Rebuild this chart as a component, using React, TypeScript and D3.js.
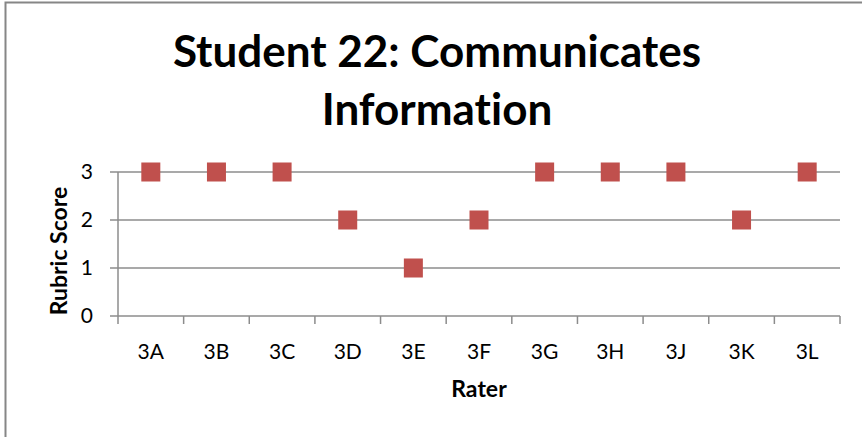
import React from "react";
import * as d3 from "d3";

const raters = ["3A", "3B", "3C", "3D", "3E", "3F", "3G", "3H", "3J", "3K", "3L"];
const scores = [3, 3, 3, 2, 1, 2, 3, 3, 3, 2, 3];
const yTicks = [0, 1, 2, 3];

const W = 862;
const H = 437;
const margin = { left: 118, right: 22, top: 172, bottom: 121 };
const font = "Lato, 'Open Sans', sans-serif";

export default function App() {
  const x = d3
    .scaleBand<string>()
    .domain(raters)
    .range([margin.left, W - margin.right]);
  const y = d3
    .scaleLinear()
    .domain([0, 3])
    .range([H - margin.bottom, margin.top]);
  const sz = 19;
  const grid = "#8c8c8c";

  return (
    <svg
      width={W}
      height={H}
      style={{ position: "absolute", left: 0, top: 0, background: "#fff", fontVariantLigatures: "none" }}
      fontFamily={font}
    >
      <rect x={5.5} y={2.5} width={W + 10} height={H + 10} fill="#fff" stroke="#868686" strokeWidth={2} />
      <text x={437} y={67} textAnchor="middle" fontSize={44} fontWeight="bold">
        Student 22: Communicates
      </text>
      <text x={437} y={125} textAnchor="middle" fontSize={44} fontWeight="bold">
        Information
      </text>

      {yTicks.map((t) => (
        <g key={t}>
          <line
            x1={margin.left - 8}
            x2={W - margin.right}
            y1={y(t)}
            y2={y(t)}
            stroke={grid}
            strokeWidth={1.5}
          />
          <text x={93} y={y(t)} dy="0.35em" textAnchor="end" fontSize={21}>
            {t}
          </text>
        </g>
      ))}
      <line x1={margin.left} x2={margin.left} y1={y(3)} y2={y(0) + 8} stroke={grid} strokeWidth={1.5} />
      {raters.map((r) => (
        <line
          key={"t" + r}
          x1={x(r)! + x.bandwidth()}
          x2={x(r)! + x.bandwidth()}
          y1={y(0)}
          y2={y(0) + 8}
          stroke={grid}
          strokeWidth={1.5}
        />
      ))}
      {raters.map((r) => (
        <text
          key={"l" + r}
          x={x(r)! + x.bandwidth() / 2}
          y={y(0) + 43}
          textAnchor="middle"
          fontSize={21}
        >
          {r}
        </text>
      ))}

      {scores.map((s, i) => (
        <rect
          key={"m" + i}
          x={x(raters[i])! + x.bandwidth() / 2 - sz / 2}
          y={y(s) - sz / 2}
          width={sz}
          height={sz}
          fill="#c0504d"
        />
      ))}

      <text x={479} y={397} textAnchor="middle" fontSize={23} fontWeight="bold">
        Rater
      </text>
      <text
        transform={`translate(67,251) rotate(-90)`}
        textAnchor="middle"
        fontSize={23}
        fontWeight="bold"
      >
        Rubric Score
      </text>
    </svg>
  );
}
